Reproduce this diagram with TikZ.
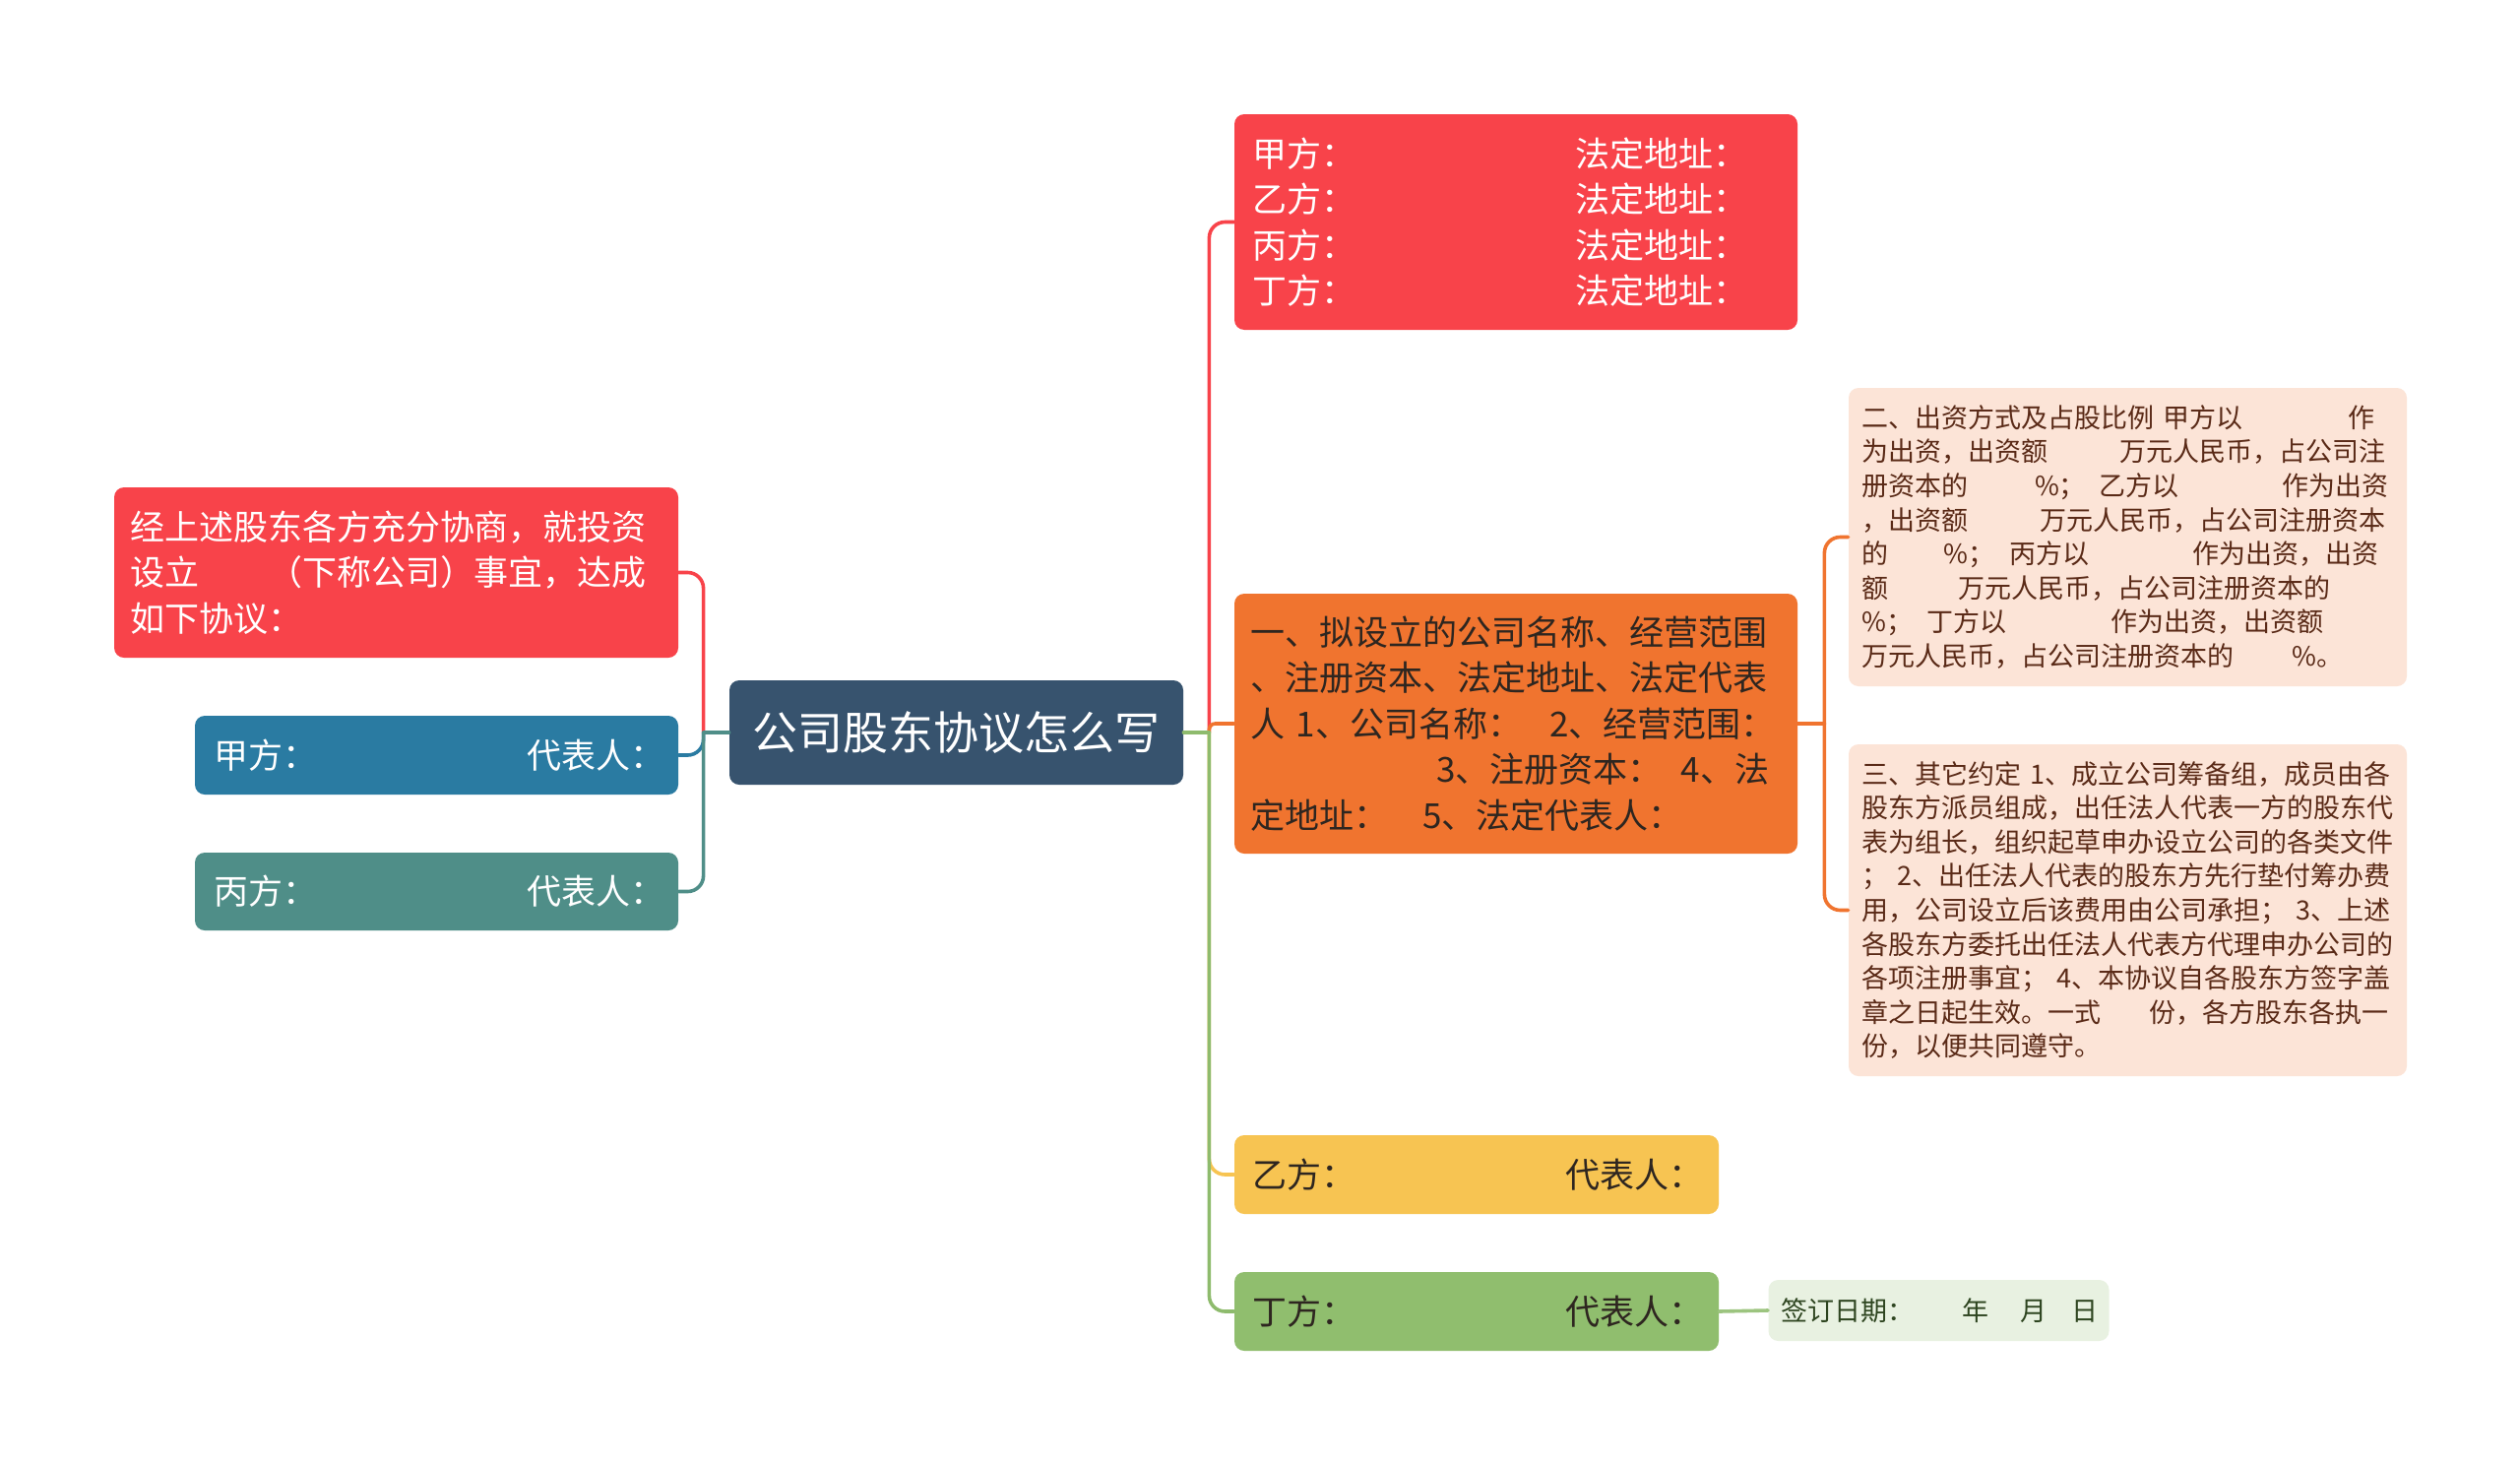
\documentclass[tikz,border=0pt]{standalone}
\usepackage{fontspec}
\setmainfont{Noto Sans CJK SC}
\usetikzlibrary{calc}
\definecolor{redc}{HTML}{F8434A}
\definecolor{bluec}{HTML}{2A7BA2}
\definecolor{tealc}{HTML}{4F8E88}
\definecolor{navyc}{HTML}{37536E}
\definecolor{orangec}{HTML}{F0742F}
\definecolor{yellowc}{HTML}{F7C452}
\definecolor{greenc}{HTML}{90BE6E}
\definecolor{datebg}{HTML}{E8F1E1}
\definecolor{peachc}{HTML}{FCE4D7}
\definecolor{peachtxt}{HTML}{5A2A17}
\definecolor{darktxt}{HTML}{2E2620}
\definecolor{datetxt}{HTML}{2E4520}
\definecolor{linegreen}{HTML}{8EBB6D}
\definecolor{dategreen}{HTML}{9CC47F}
\tikzset{
  box/.style={rectangle, rounded corners=5pt, inner ysep=0pt, align=left},
  bigtxt/.style={font=\fontsize{17.5pt}{23.2pt}\selectfont},
  smalltxt/.style={font=\fontsize{13.5pt}{17.3pt}\selectfont},
  link/.style={line width=1.8pt, line cap=round},
  curved/.style={link, rounded corners=8pt},
}
\begin{document}
\begin{tikzpicture}[x=0.5pt,y=-0.5pt]
\fill[white] (0,0) rectangle (2560,1488);
\useasboundingbox (0,0) rectangle (2560,1488);

% central node
\node[box, fill=navyc, text=white, minimum width=230.5pt, minimum height=53pt,
      font=\fontsize{23pt}{28pt}\selectfont, align=center] (center) at (971.5,744) {公司股东协议怎么写};

% right side
\node[box, bigtxt, fill=redc, text=white, text width=268pt, inner xsep=9pt, minimum height=109.5pt]
  (topred) at (1540,225.5)
  {\makebox[164pt][l]{甲方：}法定地址：\\
   \makebox[164pt][l]{乙方：}法定地址：\\
   \makebox[164pt][l]{丙方：}法定地址：\\
   \makebox[164pt][l]{丁方：}法定地址：};

\node[box, bigtxt, fill=orangec, text=darktxt, text width=270pt, inner xsep=8pt, minimum height=132pt]
  (orange) at (1540,735)
  {一、拟设立的公司名称、经营范围\\
   、注册资本、法定地址、法定代表\\
   \mbox{人 1、公司名称：\hspace{0.8em}2、经营范围：}\\
   \mbox{\hspace*{5.4em}3、注册资本：\hspace{0.55em}4、法}\\
   \mbox{定地址：\hspace{1em}5、法定代表人：}};

\node[box, bigtxt, fill=yellowc, text=darktxt, text width=228pt, inner xsep=9pt, minimum height=40pt]
  (yellow) at (1500,1193) {\makebox[159pt][l]{乙方：}代表人：};

\node[box, bigtxt, fill=greenc, text=darktxt, text width=228pt, inner xsep=9pt, minimum height=40pt]
  (green) at (1500,1332) {\makebox[159pt][l]{丁方：}代表人：};

\node[box, smalltxt, fill=datebg, text=datetxt, text width=160pt, inner xsep=6.5pt, minimum height=31pt]
  (date) at (1969.5,1331)
  {\makebox[92pt][l]{签订日期：}\makebox[29.4pt][l]{年}\makebox[26pt][l]{月}日};

\node[box, smalltxt, fill=peachc, text=peachtxt, text width=270pt, inner xsep=6.75pt, minimum height=151.5pt]
  (peach1) at (2161.5,545.5)
  {\makebox[18.3em][l]{二、出资方式及占股比例 甲方以}作\\
   \makebox[9.7em][l]{为出资，出资额}万元人民币，占公司注\\
   \makebox[6.5em][l]{册资本的}\makebox[2.43em][l]{\%；}\makebox[6.87em][l]{乙方以}作为出资\\
   \makebox[6.7em][l]{，出资额}万元人民币，占公司注册资本\\
   \makebox[3.07em][l]{的}\makebox[2.5em][l]{\%；}\makebox[6.86em][l]{丙方以}作为出资，出资\\
   \makebox[3.64em][l]{额}万元人民币，占公司注册资本的\\
   \makebox[2.43em][l]{\%；}\makebox[6.93em][l]{丁方以}作为出资，出资额\\
   \makebox[16.2em][l]{万元人民币，占公司注册资本的}\%。};

\node[box, smalltxt, fill=peachc, text=peachtxt, text width=270pt, inner xsep=6.75pt, minimum height=168.5pt]
  (peach2) at (2161.5,924.5)
  {\mbox{三、其它约定 1、成立公司筹备组，成员由各}\\
   股东方派员组成，出任法人代表一方的股东代\\
   表为组长，组织起草申办设立公司的各类文件\\
   \mbox{； 2、出任法人代表的股东方先行垫付筹办费}\\
   \mbox{用，公司设立后该费用由公司承担； 3、上述}\\
   各股东方委托出任法人代表方代理申办公司的\\
   \mbox{各项注册事宜； 4、本协议自各股东方签字盖}\\
   \makebox[10.8em][l]{章之日起生效。一式}份，各方股东各执一\\
   份，以便共同遵守。};

% left side
\node[box, bigtxt, fill=redc, text=white, text width=270.5pt, inner xsep=8pt, minimum height=86.5pt]
  (leftred) at (402.5,581.5)
  {经上述股东各方充分协商，就投资\\
   \mbox{设立\hspace{2em}（下称公司）事宜，达成}\\
   如下协议：};

\node[box, bigtxt, fill=bluec, text=white, text width=226.5pt, inner xsep=9.5pt, minimum height=40pt]
  (blue) at (443.5,767) {\makebox[159pt][l]{甲方：}代表人：};

\node[box, bigtxt, fill=tealc, text=white, text width=226.5pt, inner xsep=9.5pt, minimum height=39.5pt]
  (teal) at (443.5,905.5) {\makebox[159pt][l]{丙方：}代表人：};

% junctions
\coordinate (rj) at ($(center.east)+(26,0)$);
\coordinate (lj) at ($(center.west)+(-26,0)$);
\coordinate (oj) at ($(orange.east)+(27,0)$);

% right connectors
\draw[curved, draw=redc] (rj) |- (topred.west);
\draw[link, rounded corners=3pt, draw=orangec] (rj) |- (orange.west);
\draw[curved, draw=yellowc] (rj) |- (yellow.west);
\draw[curved, draw=linegreen] (rj) |- (green.west);
\draw[link, draw=linegreen] (center.east) -- (rj);

% left connectors
\draw[curved, draw=redc] (lj) |- (leftred.east);
\draw[curved, draw=bluec] (lj) |- (blue.east);
\draw[curved, draw=tealc] (lj) |- (teal.east);
\draw[link, draw=tealc] (center.west) -- (lj);

% orange to peach
\draw[link, draw=orangec] (orange.east) -- (oj);
\draw[curved, draw=orangec] (oj) |- (peach1.west);
\draw[curved, draw=orangec] (oj) |- (peach2.west);

% green to date
\draw[link, draw=dategreen] (green.east) -- (date.west);
\end{tikzpicture}
\end{document}
